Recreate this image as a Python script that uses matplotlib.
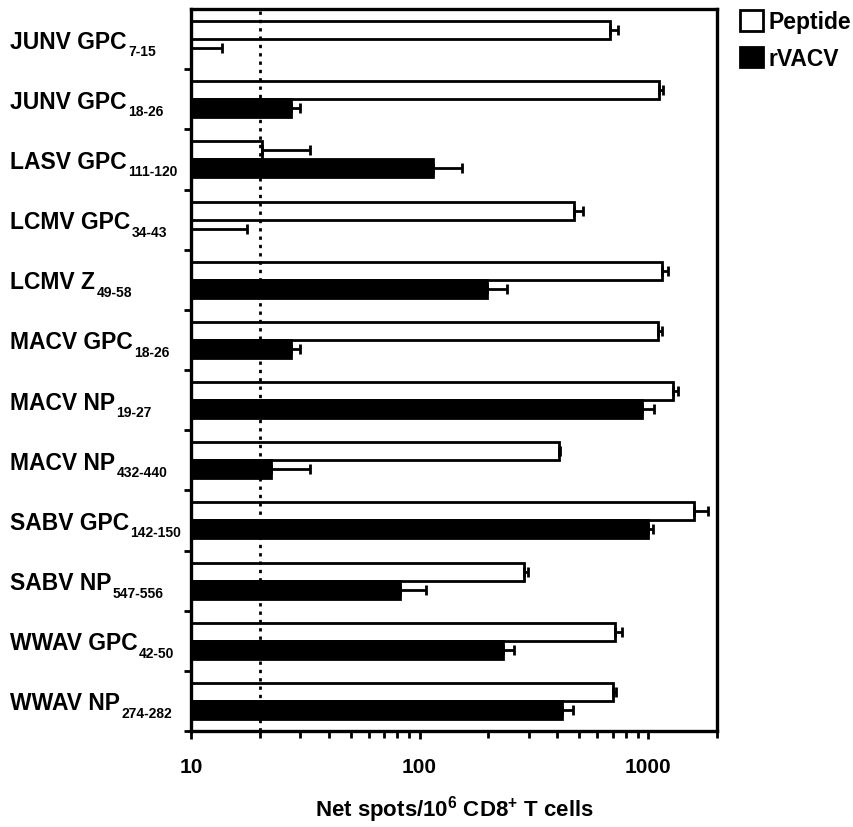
import matplotlib
matplotlib.use('Agg')
import matplotlib.pyplot as plt
import matplotlib.transforms as mtransforms
from matplotlib.patches import Patch
import numpy as np

plt.rcParams['font.family'] = ['Liberation Sans', 'DejaVu Sans']
plt.rcParams['font.weight'] = 'bold'
plt.rcParams['mathtext.fontset'] = 'custom'
plt.rcParams['mathtext.rm'] = 'Liberation Sans:bold'
plt.rcParams['mathtext.it'] = 'Liberation Sans:bold'
plt.rcParams['mathtext.bf'] = 'Liberation Sans:bold'

# epitopes (top to bottom)
names = ['JUNV GPC', 'JUNV GPC', 'LASV GPC', 'LCMV GPC', 'LCMV Z', 'MACV GPC',
         'MACV NP', 'MACV NP', 'SABV GPC', 'SABV NP', 'WWAV GPC', 'WWAV NP']
positions = ['7-15', '18-26', '111-120', '34-43', '49-58', '18-26',
             '19-27', '432-440', '142-150', '547-556', '42-50', '274-282']

peptide = [680, 1115, 20.5, 473, 1146, 1109, 1280, 406, 1590, 286, 713, 702]
peptide_err = [55, 50, 12.5, 47, 70, 44, 65, 6, 235, 12, 52, 22]
rvacv = [10, 27.3, 114, 10, 198, 27.3, 937, 22.3, 1000, 82, 231, 420]
rvacv_err = [3.7, 2.7, 39, 7.5, 44, 2.7, 120, 10.7, 45, 25, 27, 49]

threshold = 20

fig = plt.figure(figsize=(8.54, 8.28), dpi=100)
ax = fig.add_axes([191 / 854, 1 - 732 / 828, 526 / 854, 722 / 828])
ax.set_xscale('log')

y = np.arange(len(names))
h = 0.3
base = 1.0

ax.barh(y - h / 2, np.array(peptide) - base, left=base, height=h,
        color='white', edgecolor='black', linewidth=2, zorder=2)
ax.barh(y + h / 2, np.array(rvacv) - base, left=base, height=h,
        color='black', edgecolor='black', linewidth=2, zorder=2)

ax.errorbar(peptide, y - h / 2,
            xerr=[np.zeros(len(peptide)), peptide_err],
            fmt='none', ecolor='black', elinewidth=2, capsize=3.5,
            capthick=2, zorder=3)
ax.errorbar(rvacv, y + h / 2,
            xerr=[np.zeros(len(rvacv)), rvacv_err],
            fmt='none', ecolor='black', elinewidth=2, capsize=3.5,
            capthick=2, zorder=3)

ax.axvline(threshold, color='black', linewidth=2,
           linestyle=(0, (1.2, 1.8)), zorder=4)

ax.set_xlim(10, 2000)
ax.set_ylim(len(names) - 0.5, -0.5)

ax.set_xticks([10, 100, 1000])
ax.set_xticklabels(['10', '100', '1000'], fontsize=15, fontweight='bold')
ax.tick_params(axis='x', which='major', direction='out', length=6, width=2,
               pad=13)
ax.tick_params(axis='x', which='minor', direction='out', length=5, width=2)

ax.set_yticks(y + 0.5)
ax.set_yticklabels([])
ax.tick_params(axis='y', which='major', direction='out', length=5, width=2)
ax.tick_params(axis='y', which='minor', left=False)

for s in ax.spines.values():
    s.set_linewidth(2.4)

ax.set_xlabel(r'Net spots/10$^{\text{6}}$ CD8$^{\text{+}}$ T cells',
              fontsize=16, fontweight='bold', labelpad=12)

trans = mtransforms.blended_transform_factory(fig.transFigure, ax.transData)
for i, (n, p) in enumerate(zip(names, positions)):
    t = ax.text(10 / 854, i + 0.14, n, transform=trans,
                ha='left', va='baseline', fontsize=16.5, fontweight='bold')
    ax.annotate(p, xy=(1, 0), xycoords=t, xytext=(1, -4),
                textcoords='offset points', ha='left', va='bottom',
                fontsize=10, fontweight='bold')

handles = [Patch(facecolor='white', edgecolor='black', linewidth=2),
           Patch(facecolor='black', edgecolor='black', linewidth=2)]
fig.legend(handles, ['Peptide', 'rVACV'], loc='upper left',
           bbox_to_anchor=(740 / 854, 1 - 11 / 828), frameon=False,
           prop={'size': 16.5, 'weight': 'bold'}, handlelength=1.0,
           handleheight=1.0, handletextpad=0.25, labelspacing=0.6,
           borderpad=0, borderaxespad=0)

fig.savefig('out.png', dpi=100)
